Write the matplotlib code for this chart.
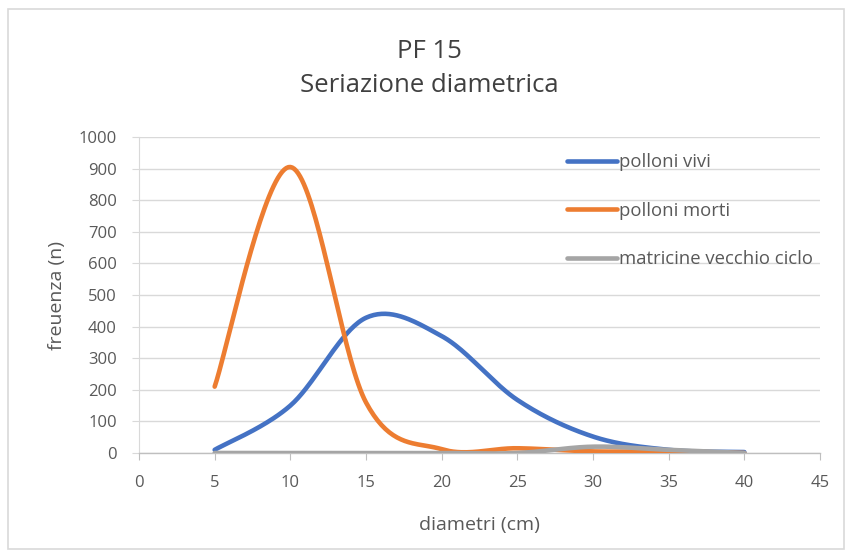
import numpy as np
import matplotlib
matplotlib.use("Agg")
import matplotlib.pyplot as plt
from matplotlib.patches import Rectangle

# Data
diametri = [5, 10, 15, 20, 25, 30, 35, 40]
polloni_vivi = [10, 150, 428, 370, 168, 52, 10, 3]
polloni_morti = [210, 905, 160, 12, 15, 5, 5, 0]
matricine = [0, 0, 0, 0, 0, 20, 10, 0]
series_names = ["polloni vivi", "polloni morti", "matricine vecchio ciclo"]
colors = ["#4472C4", "#ED7D31", "#A5A5A5"]
y_ticks = [0, 100, 200, 300, 400, 500, 600, 700, 800, 900, 1000]
x_ticks = [0, 5, 10, 15, 20, 25, 30, 35, 40, 45]


def smooth(x, y, n=40):
    """Excel-like smoothed line (Catmull-Rom Bezier) through the points."""
    x = np.asarray(x, float)
    y = np.asarray(y, float)
    px = np.concatenate([[x[0]], x, [x[-1]]])
    py = np.concatenate([[y[0]], y, [y[-1]]])
    xs, ys = [], []
    for i in range(1, len(px) - 2):
        p0 = np.array([px[i - 1], py[i - 1]])
        p1 = np.array([px[i], py[i]])
        p2 = np.array([px[i + 1], py[i + 1]])
        p3 = np.array([px[i + 2], py[i + 2]])
        c1 = p1 + (p2 - p0) / 6.0
        c2 = p2 - (p3 - p1) / 6.0
        t = np.linspace(0, 1, n)[:, None]
        pts = ((1 - t) ** 3) * p1 + 3 * ((1 - t) ** 2) * t * c1 + 3 * (1 - t) * t ** 2 * c2 + t ** 3 * p2
        xs.extend(pts[:, 0])
        ys.extend(pts[:, 1])
    return np.array(xs), np.array(ys)


plt.rcParams['font.family'] = ['Open Sans', 'DejaVu Sans']

fig = plt.figure(figsize=(8.46, 5.53), dpi=100)
fig.patches.append(Rectangle((8 / 846, 4 / 553), 836 / 846, 540 / 553, transform=fig.transFigure,
                             fill=False, edgecolor="#d9d9d9", linewidth=1.2))

ax = fig.add_axes([139 / 846, 1 - 453 / 553, 681 / 846, 316 / 553])

for vals, name, col in zip([polloni_vivi, polloni_morti, matricine], series_names, colors):
    sx, sy = smooth(diametri, vals)
    ax.plot(sx, sy, color=col, linewidth=3.3, label=name, solid_capstyle="round", zorder=3)

ax.set_xlim(0, 45)
ax.set_ylim(0, 1000)
ax.set_xticks(x_ticks)
ax.set_yticks(y_ticks)
ax.grid(axis="y", color="#d9d9d9", linewidth=1.0)
ax.set_axisbelow(True)
for s in ["top", "right"]:
    ax.spines[s].set_visible(False)
ax.spines["left"].set_color("#d9d9d9")
ax.spines["bottom"].set_color("#bfbfbf")
ax.spines["bottom"].set_linewidth(1.0)
ax.tick_params(axis="y", length=5, color="#d9d9d9", labelsize=12, labelcolor="#595959", pad=11)
ax.tick_params(axis="x", length=5, color="#bfbfbf", labelsize=12, labelcolor="#595959", pad=11)

ax.set_xlabel("diametri (cm)", fontsize=14, color="#595959", labelpad=18)
ax.set_ylabel("freuenza (n)", fontsize=14, color="#595959", labelpad=9)

fig.text(0.508, 1 - 51 / 553, "PF 15", ha="center", va="center", fontsize=18.5, color="#404040")
fig.text(0.508, 1 - 86 / 553, "Seriazione diametrica", ha="center", va="center", fontsize=18.5, color="#404040")

leg = ax.legend(loc="upper left", bbox_to_anchor=((560 - 139) / 681, (453 - 146) / 316), frameon=False,
                fontsize=13.3, labelcolor="#595959", handlelength=2.7, handletextpad=0.1,
                labelspacing=1.65, borderaxespad=0)

fig.savefig("out.png", dpi=100)
